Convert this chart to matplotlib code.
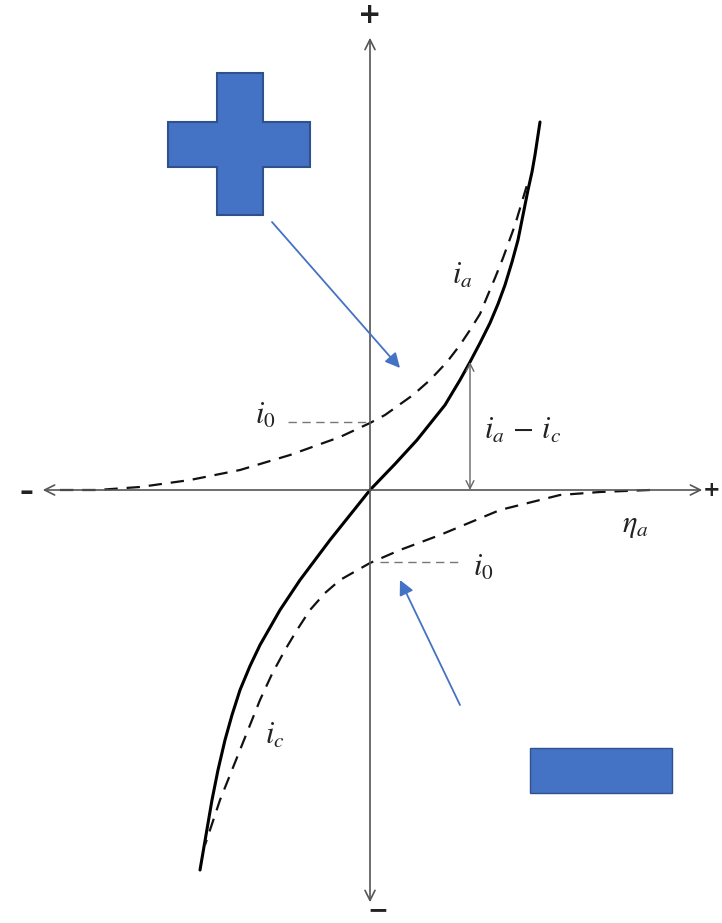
import matplotlib
matplotlib.use("Agg")
import matplotlib.pyplot as plt
from matplotlib.patches import Polygon, Rectangle

plt.rcParams["mathtext.fontset"] = "stix"

# Overpotential (eta) and current densities, arbitrary units
net_eta = [-1.70, -1.64, -1.58, -1.52, -1.45, -1.38, -1.30, -1.20, -1.10,
           -0.90, -0.70, -0.40, 0.00, 0.25, 0.47, 0.75, 0.90, 1.00, 1.10,
           1.20, 1.28, 1.35, 1.42, 1.48, 1.53, 1.58, 1.62, 1.65, 1.70]
net_i = [-3.80, -3.45, -3.10, -2.80, -2.50, -2.25, -2.00, -1.76, -1.55,
         -1.20, -0.90, -0.50, 0.00, 0.26, 0.50, 0.85, 1.10, 1.28, 1.47,
         1.67, 1.86, 2.05, 2.28, 2.50, 2.75, 3.00, 3.18, 3.35, 3.68]

anodic_eta = [-3.10, -2.73, -2.30, -1.80, -1.30, -0.80, -0.30, 0.00, 0.15,
              0.43, 0.60, 0.77, 0.90, 1.00, 1.10, 1.17, 1.25, 1.33, 1.45,
              1.57]
anodic_i = [0.00, 0.00, 0.03, 0.10, 0.20, 0.35, 0.53, 0.67, 0.75, 0.95, 1.10,
            1.28, 1.45, 1.60, 1.76, 1.93, 2.12, 2.32, 2.65, 3.05]

cathodic_eta = [2.80, 2.30, 1.90, 1.30, 0.70, 0.30, 0.00, -0.30, -0.45,
                -0.60, -0.73, -0.85, -0.98, -1.10, -1.20, -1.30, -1.40,
                -1.50, -1.65]
cathodic_i = [0.00, -0.02, -0.05, -0.20, -0.45, -0.60, -0.73, -0.90, -1.03,
              -1.20, -1.40, -1.60, -1.84, -2.10, -2.35, -2.60, -2.85,
              -3.10, -3.55]

i0_anodic = 0.68
i0_cathodic = -0.72
eta_marker = 1.00
i_net_marker = 1.28

BLUE = "#4472C4"
BLUE_EDGE = "#2F528F"

fig = plt.figure(figsize=(7.22, 9.23), dpi=100)
ax = fig.add_axes([0, 0, 1, 1])
ax.set_xlim(-3.70, 3.52)
ax.set_ylim(-4.33, 4.90)
ax.axis("off")

# Axes with arrowheads at both ends
ax.annotate("", xy=(0, 4.55), xytext=(0, -4.15),
            arrowprops=dict(arrowstyle="<->", color="#555555", lw=1.2,
                            mutation_scale=18))
ax.annotate("", xy=(-3.30, 0), xytext=(3.35, 0),
            arrowprops=dict(arrowstyle="<->", color="#555555", lw=1.2,
                            mutation_scale=18))

# Sign markers at the axis ends
ax.text(0, 4.75, "+", ha="center", va="center", fontsize=20,
        fontweight="bold", color="#222222")
ax.text(0.08, -4.20, "\u2212", ha="center", va="center", fontsize=18,
        fontweight="bold", color="#222222")
ax.text(-3.44, -0.02, "\u2013", ha="center", va="center", fontsize=20,
        fontweight="bold", color="#222222")
ax.text(3.42, 0.0, "+", ha="center", va="center", fontsize=15,
        fontweight="bold", color="#222222")

# Curves
ax.plot(net_eta, net_i, color="black", lw=2.2, solid_capstyle="round",
        solid_joinstyle="round")
ax.plot(anodic_eta, anodic_i, color="#111111", lw=1.6, dashes=(6, 4))
ax.plot(cathodic_eta, cathodic_i, color="#111111", lw=1.6, dashes=(6, 4))

# Exchange current guides
ax.plot([-0.82, 0.0], [i0_anodic, i0_anodic], color="#777777", lw=1.0,
        dashes=(6, 4))
ax.plot([0.1, 0.9], [i0_cathodic, i0_cathodic], color="#777777", lw=1.0,
        dashes=(6, 4))

# Net current double arrow
ax.annotate("", xy=(eta_marker, i_net_marker), xytext=(eta_marker, 0),
            arrowprops=dict(arrowstyle="<->", color="#666666", lw=1.0,
                            mutation_scale=14, shrinkA=0, shrinkB=0))

# Labels
lab = dict(ha="center", va="center", fontsize=22, color="#222222")
ax.text(-1.05, 0.75, r"$i_0$", **lab)
ax.text(1.13, -0.77, r"$i_0$", **lab)
ax.text(0.92, 2.15, r"$i_a$", **lab)
ax.text(1.53, 0.60, r"$i_a\,-\,i_c$", **lab)
ax.text(2.65, -0.35, r"$\eta_a$", **lab)
ax.text(-0.95, -2.45, r"$i_c$", **lab)

# Blue plus sign
plus_x = [-1.53, -1.07, -1.07, -0.60, -0.60, -1.07, -1.07, -1.53, -1.53,
          -2.02, -2.02, -1.53]
plus_y = [4.17, 4.17, 3.68, 3.68, 3.23, 3.23, 2.75, 2.75, 3.23, 3.23, 3.68,
          3.68]
ax.add_patch(Polygon(list(zip(plus_x, plus_y)), closed=True, facecolor=BLUE,
                     edgecolor=BLUE_EDGE, lw=1.5))

# Blue minus sign
ax.add_patch(Rectangle((1.60, -3.03), 1.42, 0.45, facecolor=BLUE,
                       edgecolor=BLUE_EDGE, lw=1.0))

# Pointer arrows
ax.annotate("", xy=(0.30, 1.22), xytext=(-0.98, 2.68),
            arrowprops=dict(arrowstyle="-|>", color=BLUE, lw=1.3,
                            mutation_scale=22, shrinkA=0, shrinkB=0))
ax.annotate("", xy=(0.30, -0.90), xytext=(0.90, -2.15),
            arrowprops=dict(arrowstyle="-|>", color=BLUE, lw=1.3,
                            mutation_scale=22, shrinkA=0, shrinkB=0))

fig.savefig("out.png", dpi=100)
